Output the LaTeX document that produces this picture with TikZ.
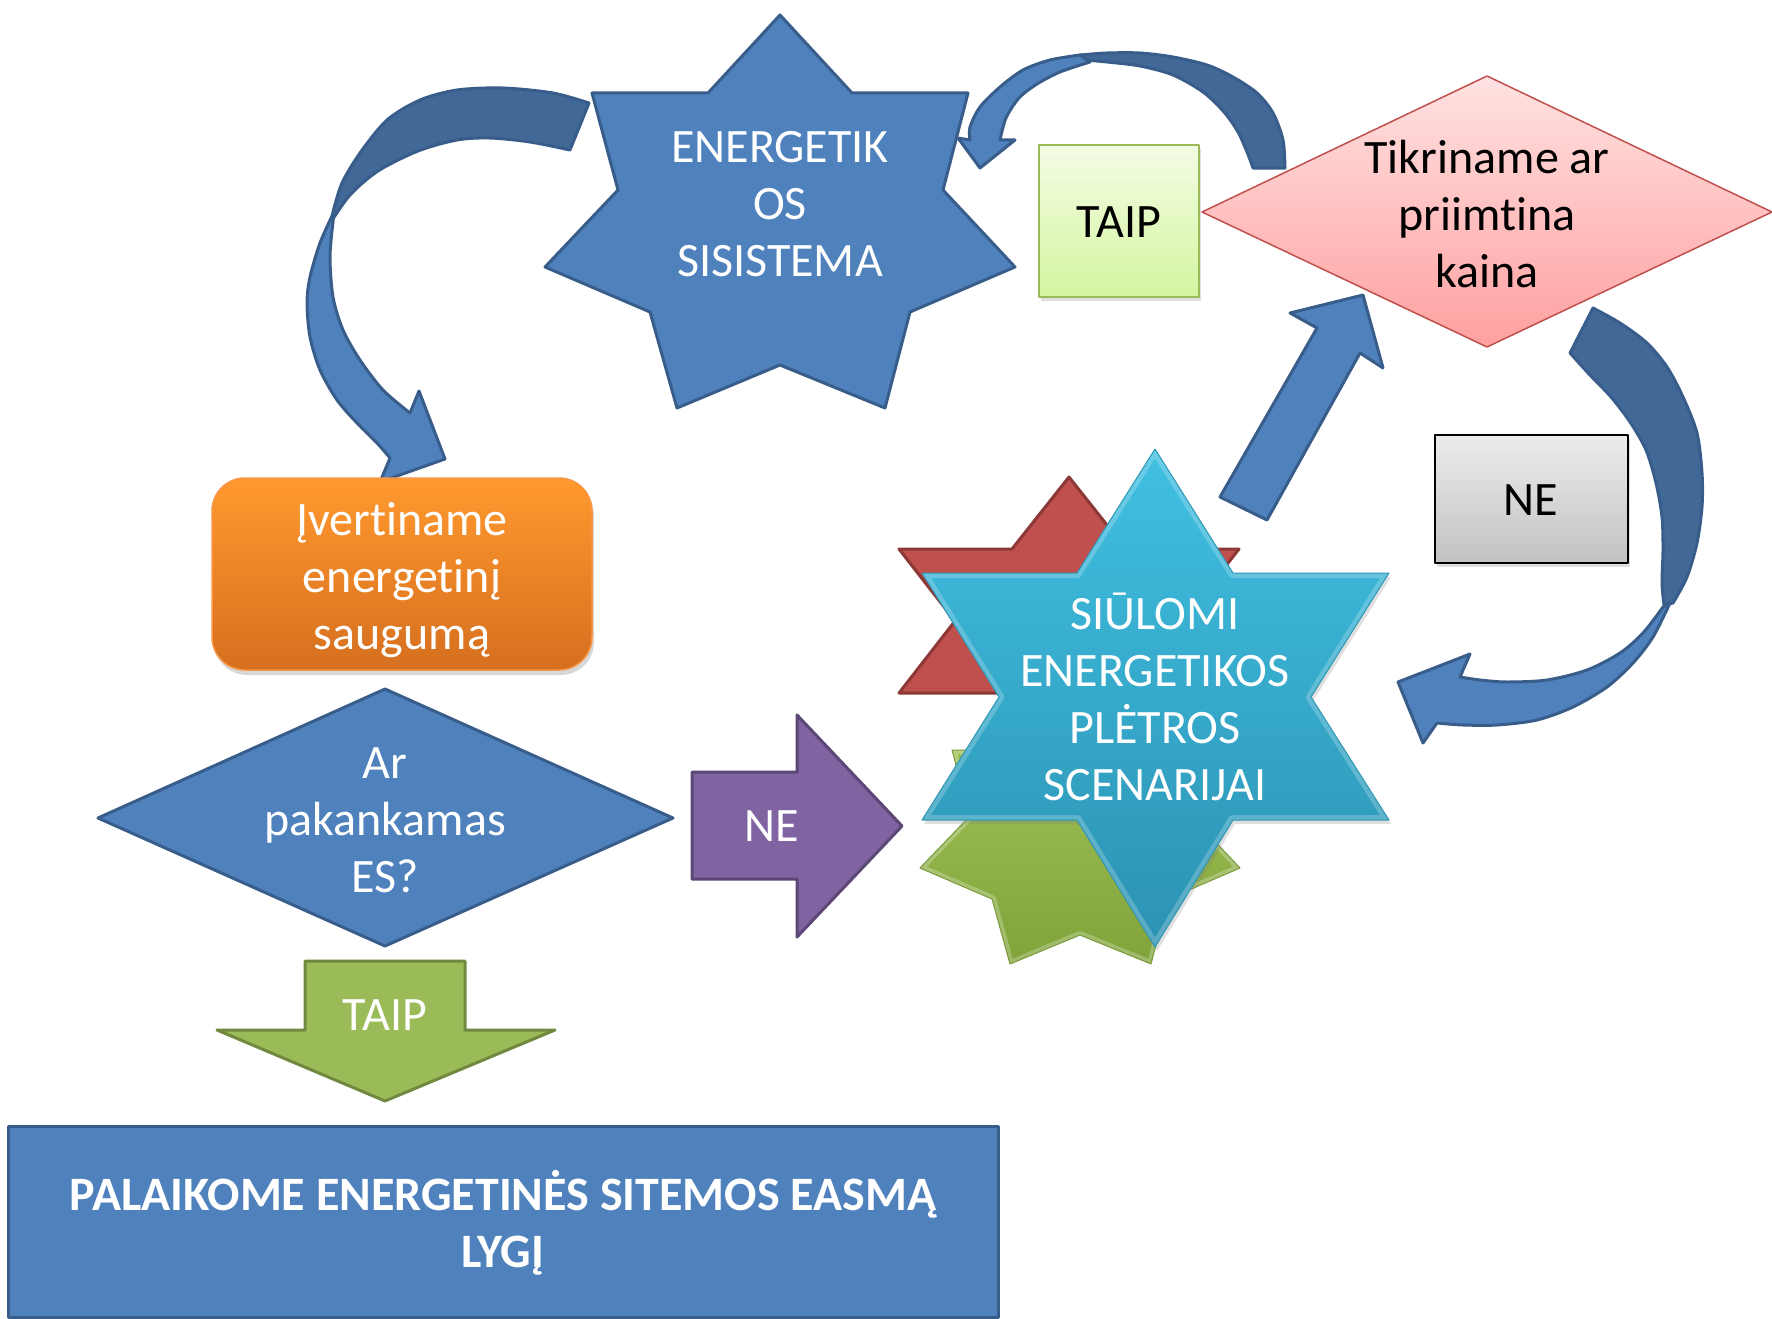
\documentclass[tikz,border=0pt]{standalone}
\usepackage{fontspec}
\setmainfont{Carlito}[Ligatures={NoCommon}]
\usetikzlibrary{shadows}
\definecolor{bfill}{HTML}{4F81BD}
\definecolor{bline}{HTML}{385D8A}
\definecolor{bdark}{HTML}{416897}
\definecolor{pfill}{HTML}{8064A2}
\definecolor{pline}{HTML}{5C4776}
\definecolor{gfill}{HTML}{9BBB59}
\definecolor{gline}{HTML}{71893F}
\definecolor{rfill}{HTML}{C0504D}
\definecolor{rline}{HTML}{8C3836}
\definecolor{pinktop}{RGB}{255,226,226}
\definecolor{pinkbot}{RGB}{255,160,160}
\definecolor{ltgtop}{RGB}{243,252,228}
\definecolor{ltgbot}{RGB}{213,245,160}
\definecolor{greytop}{RGB}{236,236,236}
\definecolor{greybot}{RGB}{194,194,194}
\definecolor{ortop}{RGB}{255,153,46}
\definecolor{orbot}{RGB}{214,111,31}
\definecolor{orline}{RGB}{247,150,70}
\definecolor{gstop}{RGB}{166,200,92}
\definecolor{gsbot}{RGB}{128,163,58}
\definecolor{gsline}{RGB}{122,154,58}
\definecolor{cytop}{RGB}{64,192,226}
\definecolor{cybot}{RGB}{44,146,178}
\definecolor{cyline}{RGB}{46,150,180}
\begin{document}
\begin{tikzpicture}[x=1pt,y=-1pt,line join=round,
  txt/.style={align=center,font=\fontsize{48}{57}\selectfont,inner sep=0pt},
  wtxt/.style={txt,text=white},
  ktxt/.style={txt,text=black},
  bluebox/.style={fill=bfill,draw=bline,line width=3pt},
  darkband/.style={fill=bdark,draw=bline,line width=3pt},
  lightband/.style={fill=bfill,draw=bline,line width=3pt}]
\useasboundingbox (0,0) rectangle (1772,1319);
\fill[white] (0,0) rectangle (1772,1319);

% ---- curved arrow 1 (star -> orange box)
\path[darkband] plot[smooth] coordinates {(589,103) (553,93) (503,88) (457,90) (420,100) (387,120) (360,153) (342,183) (333,212)}
  -- plot[smooth] coordinates {(331,222) (350,195) (378,171) (418,151) (457,140) (490,138) (530,142) (570,150)} -- cycle;
\path[lightband] plot[smooth] coordinates {(333,214) (320,243) (310,277) (307,303) (310,337) (320,370) (337,400) (357,423) (377,443) (390,458)}
  -- (380,482) -- (445,459) -- (419,391)
  -- plot[smooth] coordinates {(410,413) (383,390) (360,360) (343,330) (333,297) (330,257) (333,222)} -- cycle;

% ---- curved arrow 2 (diamond -> star)
\path[darkband] plot[smooth] coordinates {(1285,168) (1283,140) (1273,113) (1257,93) (1233,77) (1207,65) (1173,57) (1140,53) (1107,53) (1080,55)}
  -- plot[smooth] coordinates {(1085,60) (1107,62) (1140,66) (1173,75) (1203,92) (1224,112) (1238,132) (1247,152) (1253,168)} -- cycle;
\path[lightband] plot[smooth] coordinates {(1080,55) (1050,60) (1023,70) (1000,87) (980,107) (970,127) (970,140)}
  -- (958,138) -- (980,168) -- (1015,140)
  -- plot[smooth] coordinates {(1000,140) (1006,118) (1019,98) (1037,84) (1060,72) (1090,62)} -- cycle;

% ---- straight arrow 3 (scenarios -> diamond)
\path[lightband] (1220,497) -- (1317,328) -- (1290,313) -- (1363,295) -- (1383,368) -- (1360,353) -- (1267,520) -- cycle;

% ---- curved arrow 4 (diamond -> scenarios)
\path[darkband] plot[smooth] coordinates {(1593,308) (1620,323) (1647,343) (1667,367) (1683,397) (1697,433) (1702,473) (1702,507) (1697,543) (1687,577) (1673,603)}
  -- plot[smooth] coordinates {(1664,605) (1662,583) (1663,550) (1662,517) (1656,483) (1646,450) (1630,422) (1611,397) (1589,374) (1570,353)} -- cycle;
\path[lightband] plot[smooth] coordinates {(1670,603) (1653,637) (1633,663) (1607,687) (1573,707) (1537,720) (1497,725) (1463,725) (1437,723)}
  -- (1423,743) -- (1398,682) -- (1470,654)
  -- plot[smooth] coordinates {(1460,677) (1480,680) (1507,682) (1547,680) (1587,670) (1620,653) (1643,633) (1663,607)} -- cycle;

% ---- top 7-point star
\path[bluebox] (780,15) -- (852,93) -- (968,93) -- (943,190) -- (1015,267) -- (910,312) -- (885,408) -- (780,365)
  -- (677,408) -- (650,312) -- (545,267) -- (618,190) -- (592,93) -- (708,93) -- cycle;
\node[wtxt] (sys) at (780,204) {ENERGETIK\\OS\\SISISTEMA};

% ---- pink diamond
\path[top color=pinktop,bottom color=pinkbot,draw=rfill,line width=1.5pt]
  (1202,212) -- (1487,76) -- (1772,212) -- (1487,347) -- cycle;
\node[ktxt] (kaina) at (1487,214) {Tikriname ar\\priimtina\\kaina};

% ---- TAIP box
\path[top color=ltgtop,bottom color=ltgbot,draw=gfill,line width=2pt,
  drop shadow={shadow xshift=2pt,shadow yshift=-4pt,opacity=0.25}]
  (1039,145) rectangle (1199,297);
\node[ktxt] (taip1) at (1119,222) {TAIP};

% ---- NE box
\path[top color=greytop,bottom color=greybot,draw=black,line width=2pt,
  drop shadow={shadow xshift=2pt,shadow yshift=-4pt,opacity=0.25}]
  (1435,435) rectangle (1628,563);
\node[ktxt] (ne1) at (1531,500) {NE};

% ---- orange rounded box
\path[top color=ortop,bottom color=orbot,draw=orline,line width=1.5pt,rounded corners=33pt,
  drop shadow={shadow xshift=2pt,shadow yshift=-5pt,opacity=0.3}]
  (212,478) rectangle (592,670);
\node[wtxt] (ivert) at (402,580) {Įvertiname\\energetinį\\saugumą};

% ---- blue decision diamond
\path[bluebox] (98,818) -- (385,689) -- (673,818) -- (385,946) -- cycle;
\node[wtxt] (es) at (385,820) {Ar\\pakankamas\\ES?};

% ---- purple NE arrow
\path[fill=pfill,draw=pline,line width=3pt] (692,772) -- (797,772) -- (797,715) -- (902,826) -- (797,937) -- (797,879) -- (692,879) -- cycle;
\node[wtxt] (ne2) at (772,826) {NE};

% ---- green TAIP arrow
\path[fill=gfill,draw=gline,line width=3pt] (305,961) -- (465,961) -- (465,1030) -- (555,1030) -- (385,1101) -- (217,1030) -- (305,1030) -- cycle;
\node[wtxt] (taip2) at (385,1015) {TAIP};

% ---- bottom box
\path[bluebox] (8,1126) rectangle (998,1317);
\node[wtxt,font=\fontsize{48}{57}\selectfont\bfseries] (palaik) at (503,1223) {PALAIKOME ENERGETINĖS SITEMOS EASMĄ\\LYGĮ};

% ---- green 7-point star (back)
\def\greenstar{(1080,697) -- (1129,750) -- (1208,750) -- (1191,816) -- (1240,868) -- (1168,899) -- (1151,964) -- (1080,935)
  -- (1010,964) -- (992,899) -- (920,868) -- (970,816) -- (952,750) -- (1031,750) -- cycle}
\path[top color=gstop,bottom color=gsbot] \greenstar;
\begin{scope}
  \clip \greenstar;
  \draw[white,opacity=0.25,line width=8pt] \greenstar;
\end{scope}
\draw[gsline,line width=1pt] \greenstar;

% ---- red hexagram (back)
\path[fill=rfill,draw=rline,line width=3pt]
  (1069,477) -- (1126,549) -- (1239,549) -- (1183,621) -- (1239,693) -- (1126,693) -- (1069,765) -- (1012,693)
  -- (899,693) -- (955,621) -- (899,549) -- (1012,549) -- cycle;

% ---- cyan hexagram (front)
\def\cyanstar{(1155,449) -- (1233,573) -- (1389,573) -- (1311,697) -- (1389,820) -- (1233,820) -- (1155,947) -- (1077,820)
  -- (922,820) -- (999,697) -- (922,573) -- (1077,573) -- cycle}
\path[top color=cytop,bottom color=cybot,
  drop shadow={shadow xshift=2pt,shadow yshift=-4pt,opacity=0.25}] \cyanstar;
\begin{scope}
  \clip \cyanstar;
  \draw[white,opacity=0.22,line width=10pt] \cyanstar;
\end{scope}
\draw[cyline,line width=1pt] \cyanstar;
\node[wtxt] (scen) at (1155,697) {SIŪLOMI\\ENERGETIKOS\\PLĖTROS\\SCENARIJAI};
\end{tikzpicture}
\end{document}
